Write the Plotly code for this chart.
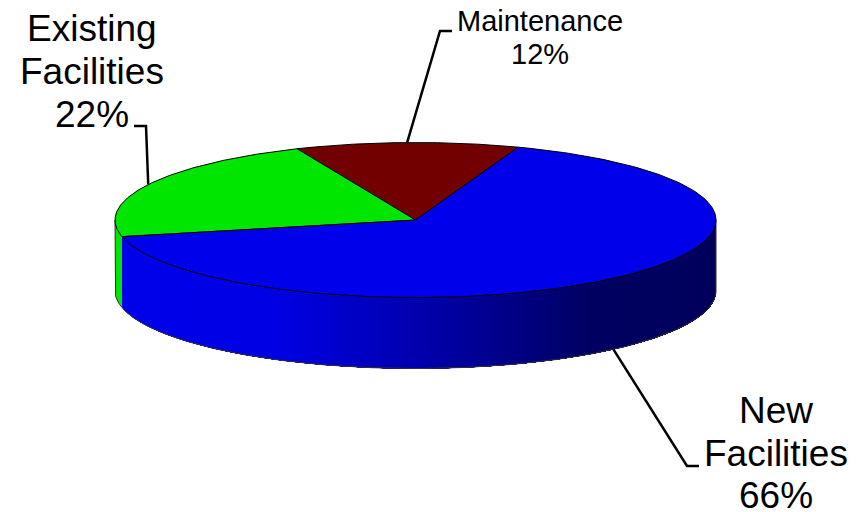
import numpy as np
import plotly.graph_objects as go

# Data
categories = ["Maintenance", "Existing Facilities", "New Facilities"]
values = [12, 22, 66]
label_lines = [["Maintenance"], ["Existing", "Facilities"], ["New", "Facilities"]]
colors = ["#730000", "#00E600", "#0000EB"]

# Pie projection (pixel space)
CX, CY, RX, RY, DEPTH = 415.5, 220.0, 300.5, 77.5, 71.0
START_DEG = 70.0
OUTLINE = "#000000"

# Label layout: centre x, baselines, font size, elbow, elbow end
label_style = [
    dict(x=540, base=[31, 64], size=29, elbow=(440, 31), end=(452, 31)),
    dict(x=92.3, base=[41, 84, 127], size=37, elbow=(146, 126), end=(134, 126)),
    dict(x=776.3, base=[423, 466, 508], size=37, elbow=(687, 466), end=(699, 466)),
]

# Horizontal shading of the rim: fraction across the pie -> blue level
rim_stops = [0.0, 0.27, 0.5, 0.8, 1.0]
rim_levels = [235, 228, 175, 98, 92]


def ell(t, dy=0.0):
    r = np.radians(t)
    return CX + RX * np.cos(r), CY - RY * np.sin(r) + dy


fig = go.Figure()


def poly(x, y, fill, line=None, width=1):
    if line is None:
        fig.add_trace(go.Scatter(
            x=x, y=y, mode="none", fill="toself", fillcolor=fill,
            hoverinfo="skip", showlegend=False))
    else:
        fig.add_trace(go.Scatter(
            x=x, y=y, mode="lines", fill="toself", fillcolor=fill,
            line=dict(color=line, width=width), hoverinfo="skip", showlegend=False))


def stroke(x, y, color=OUTLINE, width=1):
    fig.add_trace(go.Scatter(
        x=x, y=y, mode="lines", line=dict(color=color, width=width),
        hoverinfo="skip", showlegend=False))


# Slice angles from values
bounds = START_DEG + np.cumsum([0] + values) * 3.6
slices = list(zip(categories, bounds[:-1], bounds[1:], colors))

# Rim: left strip belongs to slice 2, rest to slice 3
t_green_end = bounds[2]
ts = np.linspace(180, t_green_end, 8)
x0, y0 = ell(ts)
x1, y1 = ell(ts[::-1], DEPTH)
poly(np.r_[x0, x1], np.r_[y0, y1], colors[1])

# Each band runs to the far right so the next one paints over it: no seams
edges = np.linspace(t_green_end, 360, 121)
for a, b in zip(edges[:-1], edges[1:]):
    sub = np.linspace(a, 360, max(3, int((360 - a) / 3)))
    xa, ya = ell(sub)
    xb, yb = ell(sub[::-1], DEPTH)
    xm = ell((a + b) / 2)[0]
    frac = (xm - (CX - RX)) / (2 * RX)
    lvl = int(np.interp(frac, rim_stops, rim_levels))
    poly(np.r_[xa, xb], np.r_[ya, yb], f"rgb(0,0,{lvl})")

# Rim outline
tb = np.linspace(180, 360, 200)
xb, yb = ell(tb, DEPTH)
xl, yl = ell(180)
xr, yr = ell(360)
stroke(np.r_[xl, xb, xr], np.r_[yl, yb, yr], "#333333", 1)

# Top face
for name, a, b, col in slices:
    t = np.linspace(a, b, 200)
    x, y = ell(t)
    poly(np.r_[CX, x, CX], np.r_[CY, y, CY], col, OUTLINE, 1)

# Leader lines start on the mid-angle of each slice
for (name, a, b, col), st in zip(slices, label_style):
    mid = (a + b) / 2
    dy = DEPTH if 180 < mid < 360 else 0
    px, py = ell(mid, dy)
    stroke([px, st["elbow"][0], st["end"][0]], [py, st["elbow"][1], st["end"][1]], "#000000", 2.5)

# Labels
annos = []
for lines, v, st in zip(label_lines, values, label_style):
    for txt, base in zip(lines + [f"{v}%"], st["base"]):
        annos.append(dict(
            x=st["x"], y=base - 0.345 * st["size"], text=txt, showarrow=False,
            xanchor="center", yanchor="middle", borderpad=0,
            font=dict(family="Liberation Sans", size=st["size"], color="#000000")))

fig.update_layout(
    width=864, height=512, margin=dict(l=0, r=0, t=0, b=0),
    paper_bgcolor="white", plot_bgcolor="white", showlegend=False, annotations=annos,
    xaxis=dict(range=[0, 864], visible=False, fixedrange=True),
    yaxis=dict(range=[512, 0], visible=False, fixedrange=True),
)
fig.write_html("out.html", config={"displayModeBar": False},
               post_script="document.body.style.margin='0';")
